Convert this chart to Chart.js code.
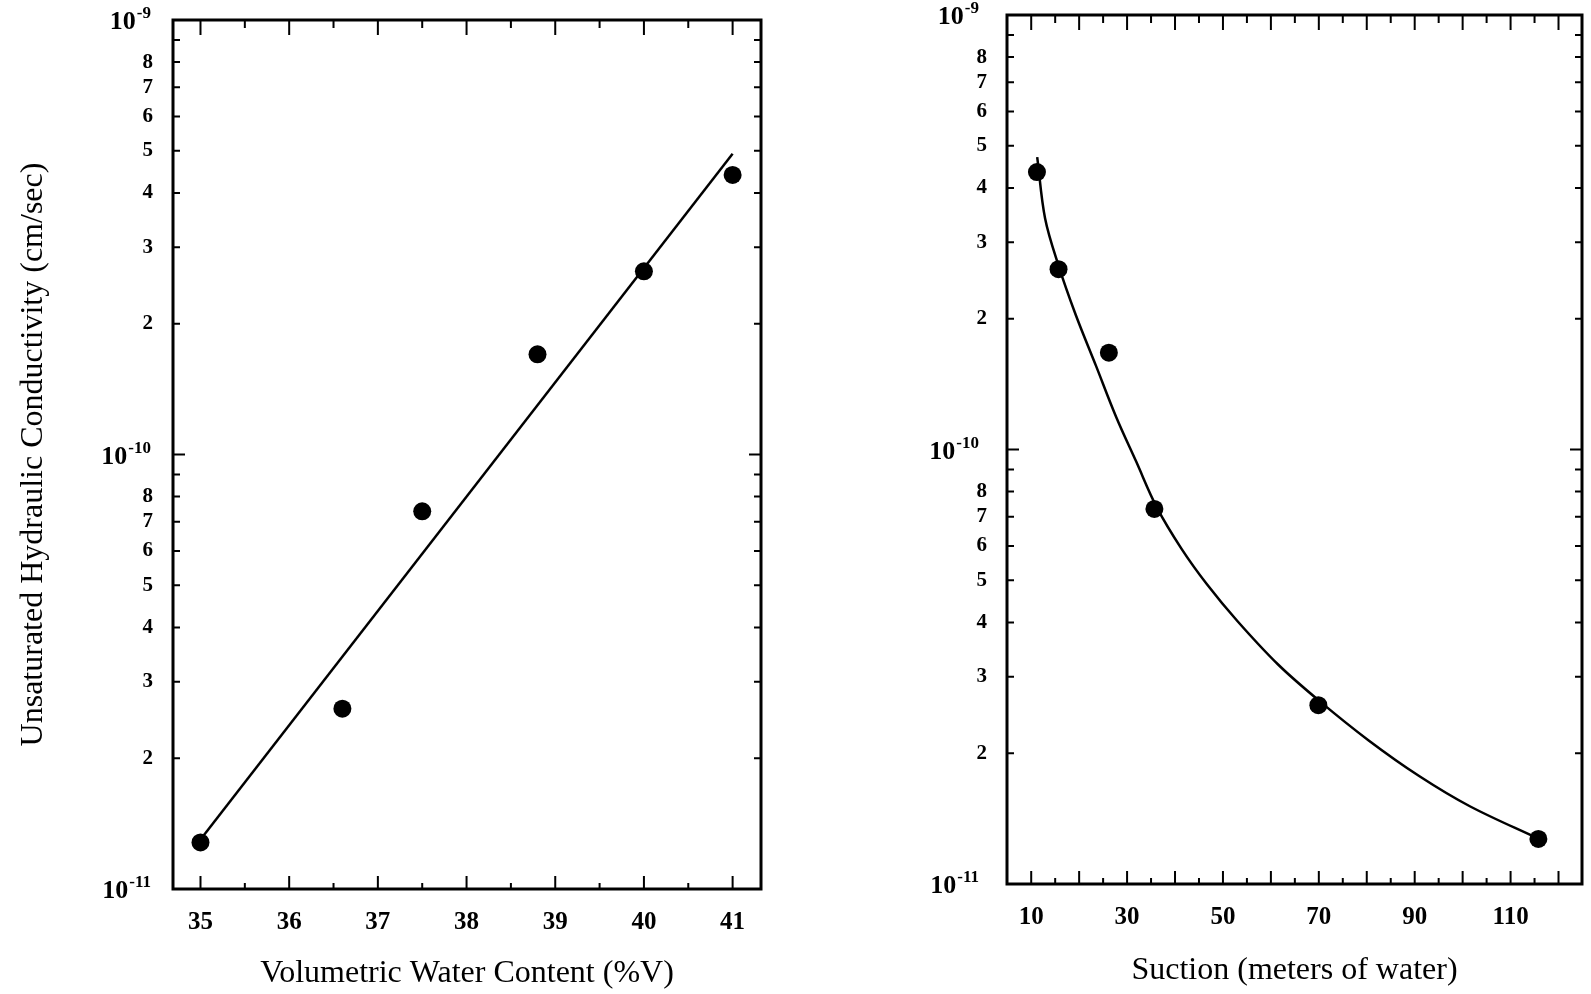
<!DOCTYPE html>
<html>
<head>
<meta charset="utf-8">
<script src="https://cdn.jsdelivr.net/npm/chart.js@4.4.1/dist/chart.umd.min.js"></script>
<style>
  html, body { margin: 0; padding: 0; background: #fff; }
  #wrap { position: relative; width: 1591px; height: 994px; overflow: hidden; }
  .box { position: absolute; top: 0; }
</style>
</head>
<body>
<div id="wrap">
  <div class="box" style="left:0px"><canvas id="leftChart" width="790" height="994"></canvas></div>
  <div class="box" style="left:795px"><canvas id="rightChart" width="796" height="994"></canvas></div>
</div>
<script>
// measured points (same conductivity values in both panels)
const waterContent = [35, 36.6, 37.5, 38.8, 40.0, 41.0];
const kByWater = [1.28e-11, 2.6e-11, 7.4e-11, 1.7e-10, 2.64e-10, 4.4e-10];

const suction = [115.8, 69.9, 35.7, 26.2, 15.7, 11.2];
const kBySuction = [1.27e-11, 2.58e-11, 7.3e-11, 1.67e-10, 2.6e-10, 4.35e-10];

// fitted line, left panel
const fitWater = [35, 41];
const fitK = [1.3e-11, 4.92e-10];

// fitted curve, right panel
const curveSuction = [11.25, 12.9, 15.7, 19.3, 23.5, 27.7, 31.9, 36.2, 41.4, 46.7, 53.0, 61.5, 69.9, 80.4, 91.0, 101.5, 115.9];
const curveK = [4.71e-10, 3.4e-10, 2.65e-10, 2.04e-10, 1.56e-10, 1.19e-10, 9.38e-11, 7.36e-11, 5.9e-11, 4.89e-11, 4.03e-11, 3.2e-11, 2.65e-11, 2.14e-11, 1.77e-11, 1.51e-11, 1.27e-11];

// ticks (decade labels are drawn as 10 + superscript exponent)
const yTicks = [1e-11, 2e-11, 3e-11, 4e-11, 5e-11, 6e-11, 7e-11, 8e-11, 9e-11,
                1e-10, 2e-10, 3e-10, 4e-10, 5e-10, 6e-10, 7e-10, 8e-10, 9e-10, 1e-9];
const yTickLabels = ['', '2', '3', '4', '5', '6', '7', '8', '',
                     '', '2', '3', '4', '5', '6', '7', '8', '',
                     ''];
const decadeTicks = [1e-11, 1e-10, 1e-9];
const decadeExponents = ['-11', '-10', '-9'];
const xTicksLeft = [35, 35.5, 36, 36.5, 37, 37.5, 38, 38.5, 39, 39.5, 40, 40.5, 41];
const xLabelsLeft = ['35', '', '36', '', '37', '', '38', '', '39', '', '40', '', '41'];
const xTicksRight = [10, 15, 20, 25, 30, 35, 40, 45, 50, 55, 60, 65, 70, 75, 80, 85, 90, 95, 100, 105, 110, 115, 120];
const xLabelsRight = ['10', '', '', '', '30', '', '', '', '50', '', '', '', '70', '', '', '', '90', '', '', '', '110', '', ''];

const FONT = "'Liberation Serif', 'Times New Roman', serif";
Chart.defaults.font.family = FONT;
Chart.defaults.color = '#000';

function isDecade(v) {
  const l = Math.log10(v);
  return Math.abs(l - Math.round(l)) < 1e-6;
}

// box frame with inward ticks on all four sides + decade labels
const frameTicks = {
  id: 'frameTicks',
  afterDraw(chart, args, opts) {
    const ctx = chart.ctx;
    const a = chart.chartArea;
    const xs = chart.scales.x, ys = chart.scales.y;
    ctx.save();
    ctx.strokeStyle = '#000';
    ctx.lineCap = 'butt';
    ctx.lineWidth = 2;
    xs.ticks.forEach(t => {
      const px = xs.getPixelForValue(t.value);
      const major = opts.xMajor(t.value);
      ctx.beginPath();
      ctx.moveTo(px, a.bottom);
      ctx.lineTo(px, a.bottom - (major ? 13 : 6));
      ctx.moveTo(px, a.top);
      ctx.lineTo(px, a.top + (major ? 15 : 8));
      ctx.stroke();
    });
    ys.ticks.forEach(t => {
      const py = ys.getPixelForValue(t.value);
      const major = isDecade(t.value);
      ctx.beginPath();
      ctx.moveTo(a.left, py);
      ctx.lineTo(a.left + (major ? 12 : 7), py);
      ctx.moveTo(a.right, py);
      ctx.lineTo(a.right - (major ? 12 : 7), py);
      ctx.stroke();
    });
    ctx.lineWidth = 3;
    ctx.strokeRect(a.left, a.top, a.right - a.left, a.bottom - a.top);

    // decade labels: 10 with raised exponent
    ctx.fillStyle = '#000';
    ctx.textBaseline = 'alphabetic';
    decadeTicks.forEach((v, i) => {
      const py = ys.getPixelForValue(v);
      const right = a.left - opts.labelGap;
      ctx.font = 'bold 17px ' + FONT;
      const ew = ctx.measureText(decadeExponents[i]).width;
      ctx.textAlign = 'right';
      ctx.fillText(decadeExponents[i], right, py - 2);
      ctx.font = 'bold 26px ' + FONT;
      ctx.fillText('10', right - ew - 1, py + 9);
    });
    ctx.restore();
  }
};

function yScale(width, withTitle) {
  return {
    type: 'logarithmic',
    min: 1e-11,
    max: 1e-9,
    grid: { display: false, drawTicks: false },
    border: { display: false },
    afterBuildTicks: s => { s.ticks = yTicks.map(v => ({ value: v })); },
    afterFit: s => { s.width = width; s.paddingTop = 0; s.paddingBottom = 0; },
    ticks: {
      autoSkip: false,
      padding: 20,
      callback: (v, i) => yTickLabels[i],
      font: { size: 21, weight: 'bold' }
    },
    title: {
      display: withTitle,
      text: 'Unsaturated Hydraulic Conductivity (cm/sec)',
      font: { size: 32 },
      padding: { top: 14, bottom: 0 }
    }
  };
}

function xScale(min, max, ticks, labels, height, title, titlePad) {
  return {
    type: 'linear',
    min: min,
    max: max,
    grid: { display: false, drawTicks: false },
    border: { display: false },
    afterBuildTicks: s => { s.ticks = ticks.map(v => ({ value: v })); },
    afterFit: s => { s.height = height; s.paddingLeft = 0; s.paddingRight = 0; },
    ticks: {
      autoSkip: false,
      maxRotation: 0,
      padding: 19,
      callback: (v, i) => labels[i],
      font: { size: 25, weight: 'bold' }
    },
    title: {
      display: true,
      text: title,
      font: { size: 32 },
      padding: { top: 0, bottom: titlePad }
    }
  };
}

const pointStyle = {
  showLine: false,
  pointRadius: 9,
  pointHoverRadius: 9,
  pointBackgroundColor: '#000',
  pointBorderColor: '#000',
  pointBorderWidth: 0
};

new Chart(document.getElementById('leftChart'), {
  type: 'scatter',
  data: {
    datasets: [
      Object.assign({ data: waterContent.map((x, i) => ({ x: x, y: kByWater[i] })) }, pointStyle),
      {
        data: fitWater.map((x, i) => ({ x: x, y: fitK[i] })),
        showLine: true,
        borderColor: '#000',
        borderWidth: 2.5,
        pointRadius: 0
      }
    ]
  },
  options: {
    responsive: false,
    animation: false,
    devicePixelRatio: 1,
    layout: { padding: { top: 20, right: 29, left: 0, bottom: 0 } },
    plugins: {
      legend: { display: false },
      tooltip: { enabled: false },
      frameTicks: { xMajor: v => Math.abs(v - Math.round(v)) < 1e-6, labelGap: 22 }
    },
    scales: {
      x: xScale(34.69, 41.32, xTicksLeft, xLabelsLeft, 105, 'Volumetric Water Content (%V)', 1),
      y: yScale(173, true)
    }
  },
  plugins: [frameTicks]
});

new Chart(document.getElementById('rightChart'), {
  type: 'scatter',
  data: {
    datasets: [
      Object.assign({ data: suction.map((x, i) => ({ x: x, y: kBySuction[i] })) }, pointStyle),
      {
        data: curveSuction.map((x, i) => ({ x: x, y: curveK[i] })),
        showLine: true,
        borderColor: '#000',
        borderWidth: 2.5,
        pointRadius: 0,
        tension: 0.35
      }
    ]
  },
  options: {
    responsive: false,
    animation: false,
    devicePixelRatio: 1,
    layout: { padding: { top: 15, right: 7, left: 0, bottom: 0 } },
    plugins: {
      legend: { display: false },
      tooltip: { enabled: false },
      frameTicks: { xMajor: v => v % 10 === 0, labelGap: 28 }
    },
    scales: {
      x: xScale(4.95, 124.9, xTicksRight, xLabelsRight, 110, 'Suction (meters of water)', 4),
      y: yScale(212, false)
    }
  },
  plugins: [frameTicks]
});
</script>
</body>
</html>
